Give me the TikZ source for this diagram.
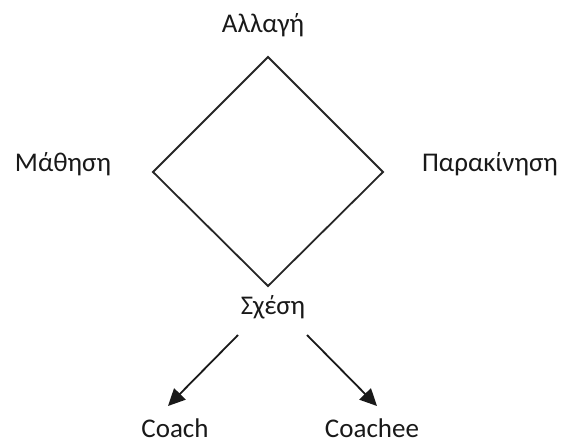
\documentclass[tikz,border=0pt]{standalone}
\usepackage{fontspec}
\setmainfont{Carlito}
\usetikzlibrary{arrows.meta}
\tikzset{
  lbl/.style={font=\fontsize{27}{31}\selectfont, text=black!90, anchor=base, inner sep=0pt},
  edge/.style={line width=1.8pt, draw=black!85},
  arrowline/.style={line width=1.8pt, draw=black!90, -{Triangle[length=17pt,width=16pt]}}
}
\begin{document}
\begin{tikzpicture}[x=1pt,y=-1pt]
  \useasboundingbox (0,0) rectangle (575,443);
  % the square of four corners
  \coordinate (top) at (268,57);
  \coordinate (left) at (153,172);
  \coordinate (right) at (383,172);
  \coordinate (bottom) at (268,286);
  \draw[edge, line join=miter] (top) -- (right) -- (bottom) -- (left) -- cycle;

  \node[lbl] (change) at (263,33) {Αλλαγή};
  \node[lbl] (learn) at (63,172) {Μάθηση};
  \node[lbl] (motiv) at (490,172) {Παρακίνηση};
  \node[lbl] (rel) at (273,315) {Σχέση};
  \node[lbl] (coach) at (175,437) {Coach};
  \node[lbl] (coachee) at (372,437) {Coachee};

  % the two branches under the relation
  \coordinate (s1) at (238,335);
  \coordinate (e1) at (168,406);
  \coordinate (s2) at (307,335);
  \coordinate (e2) at (377,406);
  \draw[arrowline] (s1) -- (e1);
  \draw[arrowline] (s2) -- (e2);
\end{tikzpicture}
\end{document}
